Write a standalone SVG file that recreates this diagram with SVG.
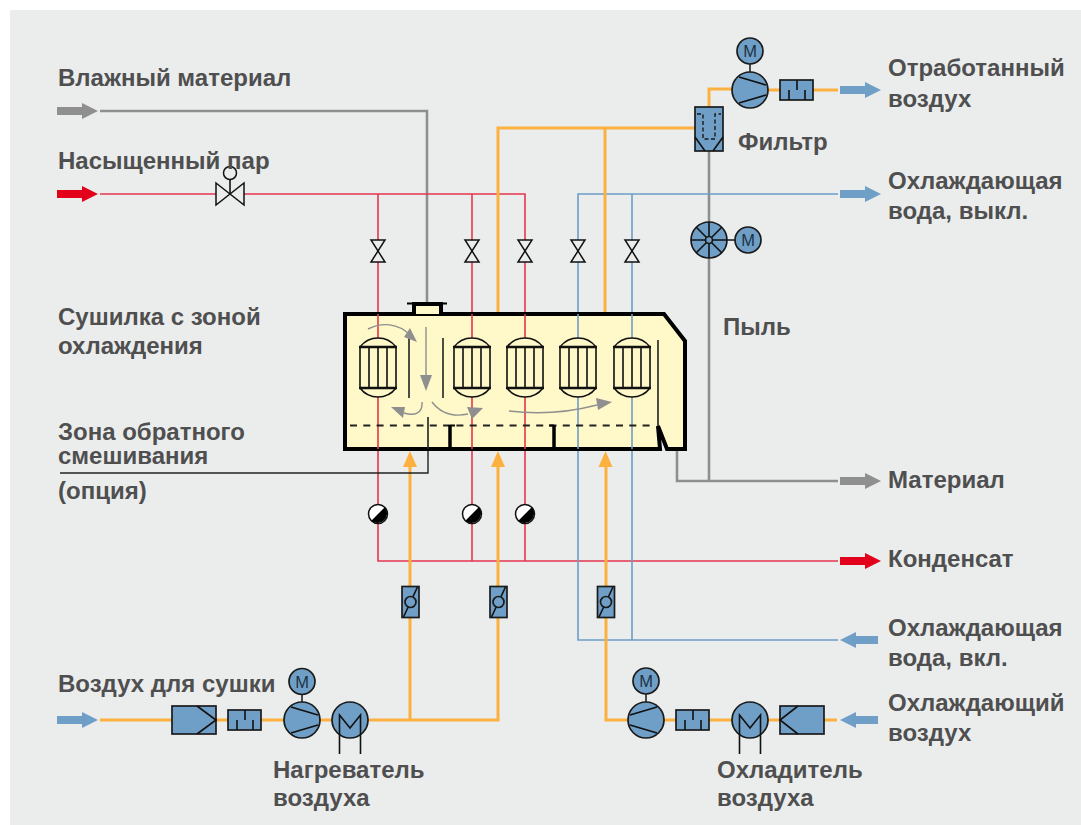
<svg xmlns="http://www.w3.org/2000/svg" width="1081" height="825" viewBox="0 0 1081 825">
<style>
text{font-family:"Liberation Sans",Arial,sans-serif;font-weight:700;font-size:24px;fill:#4f4f50}
.o{fill:none;stroke:#fbb03f;stroke-width:3}
.r{fill:none;stroke:#e8354d;stroke-width:1.6}
.b{fill:none;stroke:#6e9dc6;stroke-width:1.6}
.g{fill:none;stroke:#8f8f8f;stroke-width:2.6}
.k{fill:none;stroke:#111;stroke-width:1.6}
.eq{fill:#6f9fc6;stroke:#1a1a1a;stroke-width:1.7}
text.m{font-weight:400;font-size:16.5px;fill:#1d3344;text-anchor:middle}
.v{fill:#ebeded;stroke:#111;stroke-width:1.5}
.gr{fill:none;stroke:#8f8f8f;stroke-width:1.4}
.gf{fill:#8f8f8f}
</style>
<defs>
<path id="arrow" d="M0-4H25V-8L41 0 25 8V4H0Z"/>
<path id="arrowL" d="M0 0L16-8V-4H38V4H16V8Z"/>
<path id="upo" d="M0 0L7 16H-7Z" fill="#fbb03f"/>
<g id="motor"><circle class="eq" r="13"/><text class="m" y="6">M</text></g>
<g id="pumpR"><circle class="eq" r="18"/><path class="k" d="M-11-13L16-5M-11 13L16 5"/></g>
<g id="pumpL"><circle class="eq" r="18"/><path class="k" d="M11-13L-16-5M11 13L-16 5"/></g>
<g id="heatx"><circle class="eq" r="18"/><path class="k" d="M-10.500 34V-5L0 8 10.500-5V34"/></g>
<g id="valve"><path class="v" d="M-7-11H7L-7 11H7Z"/></g>
<g id="trap"><circle r="9.500" fill="#fff" stroke="#111" stroke-width="1.500"/><path d="M-6.700 6.700A9.500 9.500 0 0 0 6.700-6.700Z" fill="#000"/></g>
<g id="damper"><rect class="eq" x="-8.500" y="-15.500" width="17" height="31"/><path class="k" d="M-7 15L7-15"/><circle class="eq" r="5.500"/></g>
<g id="heater"><path d="M-18 9A22.500 22.500 0 0 1 18 9M-18 50A22.500 22.500 0 0 0 18 50" fill="#fff8c8" stroke="#111" stroke-width="1.600"/><path d="M-19 9H19M-19 50H19" stroke="#111" stroke-width="2.400"/><path d="M-18 9V50M-9 9V50M0 9V50M9 9V50M18 9V50" stroke="#111" stroke-width="1.600"/></g>
<g id="sil"><rect class="eq" width="33" height="20"/><path class="k" d="M9 20V10M17 0V10M25 20V10"/></g>
</defs>
<rect width="1081" height="825" fill="#fff"/>
<rect x="10" y="10" width="1071" height="815" fill="#ebeded"/>

<g id="connectors">
<path class="g" d="M100 111H427V304"/>
<path class="g" d="M677 450V481H838M709 151V481"/>
<path class="r" d="M100 194H525V561M378 194V561H838M472 194V561"/>
<path class="b" d="M838 194H578V640H838M632 194V640"/>
<path class="o" d="M498 314V128H695M605 128V314M709 107V89H732M768 90H838"/>
<path class="o" d="M100 720H498V467M410 720V467"/>
<path class="o" d="M606 467V720H837"/>
<path d="M60 473H428V417" fill="none" stroke="#222" stroke-width="1.400"/>
</g>

<g id="dryer">
<path d="M345 314H664L685 341V449H667L658 426 660 449H345Z" fill="#fff8c8" stroke="#000" stroke-width="4"/>
<path d="M414 314V304H441V314" fill="#fff8c8" stroke="#000" stroke-width="4"/>
<path d="M407 303.500H447" stroke="#000" stroke-width="2"/>
<path class="r" d="M378 314V339M378 396V449M472 314V339M472 396V449M525 314V339M525 396V449"/>
<path class="b" d="M578 314V339M578 396V449M632 314V339M632 396V449"/>
<path d="M350 425.500H655" stroke="#222" stroke-width="2" stroke-dasharray="7 6.300" fill="none"/>
<path d="M409 338V398M443 338V398M658 340V426M428 417V449" stroke="#222" stroke-width="1.600"/>
<path d="M450 425V449M554 425V449" stroke="#000" stroke-width="3.500"/>
<path d="M450 425.500H455M554 425.500H549" stroke="#000" stroke-width="2"/>
<use href="#heater" x="378" y="338"/>
<use href="#heater" x="472" y="338"/>
<use href="#heater" x="525" y="338"/>
<use href="#heater" x="578" y="338"/>
<use href="#heater" x="632" y="338"/>
<path class="gr" d="M368 329C382 322 398 323 410 335M426 327V376M422 402C423 414 414 416 404 413M432 402C442 415 454 417 468 414M509 411C540 415 570 412 597 405"/>
<path class="gf" d="M417 342L410 328 404 337ZM426 391L420 375H432ZM391 407L405 407 403 418ZM483 408L467 407 472 419ZM612 402L596 398 598 410Z"/>
<use href="#upo" x="410" y="451"/>
<use href="#upo" x="498" y="451"/>
<use href="#upo" x="605.500" y="451"/>
</g>

<g id="flow-arrows">
<use href="#arrow" x="57" y="111" fill="#8f8f8f"/>
<use href="#arrow" x="57" y="194" fill="#e2001a"/>
<use href="#arrow" x="57" y="720" fill="#6f9fc6"/>
<use href="#arrow" x="840" y="90" fill="#6f9fc6"/>
<use href="#arrow" x="840" y="194" fill="#6f9fc6"/>
<use href="#arrow" x="840" y="481" fill="#8f8f8f"/>
<use href="#arrow" x="840" y="561" fill="#e2001a"/>
<use href="#arrowL" x="840" y="640" fill="#6f9fc6"/>
<use href="#arrowL" x="840" y="720" fill="#6f9fc6"/>
</g>

<g id="main-valve"><path class="k" d="M230 179V194"/><circle class="v" cx="230" cy="173" r="6.500"/><path class="v" d="M216 183L244 205V183L216 205Z"/></g>
<g id="valves">
<use href="#valve" x="378" y="251"/>
<use href="#valve" x="472" y="251"/>
<use href="#valve" x="525" y="251"/>
<use href="#valve" x="578" y="251"/>
<use href="#valve" x="632" y="251"/>
</g>
<g id="traps">
<use href="#trap" x="378" y="514"/>
<use href="#trap" x="472" y="514"/>
<use href="#trap" x="525" y="514"/>
</g>
<g id="dampers">
<use href="#damper" x="410.500" y="602"/>
<use href="#damper" x="498.500" y="602"/>
<use href="#damper" x="606" y="602"/>
</g>

<g id="filter-top">
<rect class="eq" x="695" y="107" width="28" height="44"/>
<path class="k" d="M695 137L705 151M723 137L713 151"/>
<path d="M697 114H703V139H715V114H721" fill="none" stroke="#1a1a1a" stroke-width="1.400" stroke-dasharray="4 2.500"/>
</g>
<g id="exhaust-fan">
<path d="M750 72V64" stroke="#222" stroke-width="1.600"/>
<use href="#motor" x="750" y="51"/>
<use href="#pumpR" x="750" y="90"/>
<use href="#sil" x="780" y="80"/>
</g>
<g id="rotary-valve">
<circle class="eq" cx="709" cy="240" r="18"/>
<path class="k" d="M691 240H727M709 222V258M696.300 227.300L721.700 252.700M696.300 252.700L721.700 227.300"/>
<circle class="eq" cx="709" cy="240" r="3.500"/>
<path d="M727 240H736" stroke="#222" stroke-width="1.600"/>
<use href="#motor" x="748" y="240"/>
</g>

<g id="air-filter-left"><rect class="eq" x="172" y="706" width="44" height="28"/><path class="k" d="M197 706L216 720 197 734"/></g>
<g id="sil-left"><use href="#sil" x="228" y="710"/></g>
<g id="fan-left"><path d="M302 702V695" stroke="#222" stroke-width="1.600"/><use href="#motor" x="302" y="681.500"/><use href="#pumpR" x="302" y="720"/></g>
<g id="heater-air"><use href="#heatx" x="350" y="720"/></g>

<g id="fan-right"><path d="M646 702V694" stroke="#222" stroke-width="1.600"/><use href="#motor" x="646" y="681"/><use href="#pumpL" x="646" y="720"/></g>
<g id="sil-right"><use href="#sil" x="676" y="710"/></g>
<g id="cooler-air"><use href="#heatx" x="750" y="720"/></g>
<g id="air-filter-right"><rect class="eq" x="780" y="706" width="44" height="28"/><path class="k" d="M798 706L780 720 798 734"/></g>

<g id="labels">
<text x="58" y="86">Влажный материал</text>
<text x="58" y="169">Насыщенный пар</text>
<text x="58" y="325">Сушилка с зоной</text>
<text x="58" y="354">охлаждения</text>
<text x="58" y="440">Зона обратного</text>
<text x="58" y="464">смешивания</text>
<text x="58" y="499">(опция)</text>
<text x="58" y="692">Воздух для сушки</text>
<text x="273" y="778">Нагреватель</text>
<text x="273" y="806">воздуха</text>
<text x="717" y="778">Охладитель</text>
<text x="717" y="806">воздуха</text>
<text x="888" y="76">Отработанный</text>
<text x="888" y="107">воздух</text>
<text x="738" y="150">Фильтр</text>
<text x="888" y="189">Охлаждающая</text>
<text x="888" y="219">вода, выкл.</text>
<text x="723" y="335">Пыль</text>
<text x="888" y="488">Материал</text>
<text x="888" y="567">Конденсат</text>
<text x="888" y="636">Охлаждающая</text>
<text x="888" y="666">вода, вкл.</text>
<text x="888" y="711">Охлаждающий</text>
<text x="888" y="741">воздух</text>
</g>
</svg>
